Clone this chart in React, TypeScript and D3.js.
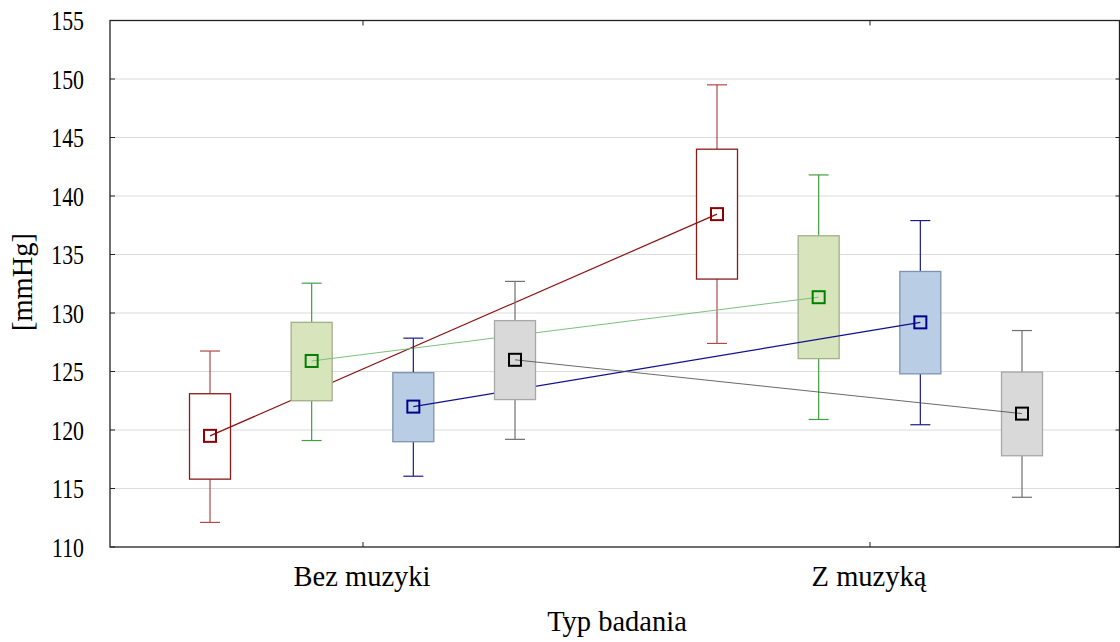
import React from "react";
import * as d3 from "d3";

const categories = ["Bez muzyki", "Z muzyką"];
const seriesNames = ["s1", "s2", "s3", "s4"];
const yTicks = [110, 115, 120, 125, 130, 135, 140, 145, 150, 155];

// per series: [Bez muzyki, Z muzyką]
const means = [
  [119.5, 138.45],
  [125.9, 131.35],
  [122.0, 129.2],
  [126.0, 121.4],
];
const boxLow = [
  [115.8, 132.9],
  [122.5, 126.1],
  [119.0, 124.8],
  [122.6, 117.8],
];
const boxHigh = [
  [123.1, 144.0],
  [129.2, 136.6],
  [124.9, 133.55],
  [129.35, 124.95],
];
const whiskLow = [
  [112.1, 127.4],
  [119.1, 120.9],
  [116.05, 120.45],
  [119.2, 114.25],
];
const whiskHigh = [
  [126.75, 149.5],
  [132.55, 141.8],
  [127.85, 137.9],
  [132.7, 128.5],
];

const styles = [
  { fill: "#ffffff", boxStroke: "#8b1a1a", whisk: "#b04848", marker: "#8b0000", line: "#8b1010", lw: 1.2 },
  { fill: "#d8e4bc", boxStroke: "#a0b088", whisk: "#40a040", marker: "#008000", line: "#7cc07c", lw: 1 },
  { fill: "#b9cde5", boxStroke: "#7f93b0", whisk: "#1a1a8b", marker: "#00008b", line: "#10108b", lw: 1.3 },
  { fill: "#d9d9d9", boxStroke: "#a8a8a8", whisk: "#707070", marker: "#000000", line: "#444444", lw: 0.8 },
];

const W = 1120;
const H = 642;
const left = 110;
const right = 1119.5;
const top = 20.5;
const bottom = 547;
const FONT = "Liberation Serif, DejaVu Serif, Times New Roman, serif";

export default function App() {
  const y = d3.scaleLinear().domain([110, 155]).range([bottom, top]);
  const x = d3.scalePoint<string>().domain(categories).range([363, 870]);
  const off = d3.scalePoint<string>().domain(seriesNames).range([-153, 152]);
  const boxW = 41;
  const capW = 20;
  const mk = 12;
  const tStyle = { fontFamily: FONT } as React.CSSProperties;

  return (
    <svg
      width={W}
      height={H}
      style={{ position: "absolute", left: 0, top: 0, background: "#fff", fontFamily: FONT }}
    >
      <rect x={0} y={0} width={W} height={H} fill="#fff" />
      {yTicks.slice(1, -1).map((t) => (
        <line key={t} x1={left} x2={right} y1={y(t)} y2={y(t)} stroke="#dcdcdc" strokeWidth={1.2} />
      ))}
      {seriesNames.map((s, si) => {
        const st = styles[si];
        const xs = categories.map((c) => (x(c) as number) + (off(s) as number));
        const path = d3
          .line<number>()
          .x((_, i) => xs[i])
          .y((d) => y(d))(means[si]);
        return (
          <g key={s}>
            {categories.map((c, ci) => {
              const cx = xs[ci];
              return (
                <g key={c}>
                  <line x1={cx} x2={cx} y1={y(whiskHigh[si][ci])} y2={y(boxHigh[si][ci])} stroke={st.whisk} strokeWidth={1.2} />
                  <line x1={cx} x2={cx} y1={y(boxLow[si][ci])} y2={y(whiskLow[si][ci])} stroke={st.whisk} strokeWidth={1.2} />
                  <line x1={cx - capW / 2} x2={cx + capW / 2} y1={y(whiskHigh[si][ci])} y2={y(whiskHigh[si][ci])} stroke={st.whisk} strokeWidth={1.2} />
                  <line x1={cx - capW / 2} x2={cx + capW / 2} y1={y(whiskLow[si][ci])} y2={y(whiskLow[si][ci])} stroke={st.whisk} strokeWidth={1.2} />
                  <rect
                    x={cx - boxW / 2}
                    y={y(boxHigh[si][ci])}
                    width={boxW}
                    height={y(boxLow[si][ci]) - y(boxHigh[si][ci])}
                    fill={st.fill}
                    stroke={st.boxStroke}
                    strokeWidth={1.3}
                  />
                </g>
              );
            })}
            <path d={path || ""} fill="none" stroke={st.line} strokeWidth={st.lw} />
            {categories.map((c, ci) => (
              <rect
                key={"m" + c}
                x={xs[ci] - mk / 2}
                y={y(means[si][ci]) - mk / 2}
                width={mk}
                height={mk}
                fill="none"
                stroke={st.marker}
                strokeWidth={2}
              />
            ))}
          </g>
        );
      })}
      <rect x={left} y={top} width={right - left} height={bottom - top} fill="none" stroke="#222" strokeWidth={1.3} />
      {yTicks.map((t) => (
        <g key={"t" + t}>
          <line x1={left} x2={left + 5} y1={y(t)} y2={y(t)} stroke="#222" strokeWidth={1} />
          <line x1={right - 4} x2={right} y1={y(t)} y2={y(t)} stroke="#222" strokeWidth={1} />
          <text
            transform={`translate(84, ${y(t)}) scale(0.78, 1)`}
            dy="0.35em"
            textAnchor="end"
            fontSize={28}
            fill="#000"
            style={tStyle}
          >
            {t}
          </text>
        </g>
      ))}
      {categories.map((c) => (
        <g key={"x" + c}>
          <line x1={x(c)} x2={x(c)} y1={bottom} y2={bottom - 5} stroke="#222" strokeWidth={1} />
          <line x1={x(c)} x2={x(c)} y1={top} y2={top + 5} stroke="#222" strokeWidth={1} />
          <text x={(x(c) as number) - 1} y={586} textAnchor="middle" fontSize={28.5} fill="#000" style={tStyle}>
            {c}
          </text>
        </g>
      ))}
      <text x={617} y={631} textAnchor="middle" fontSize={28.5} fill="#000" style={tStyle}>
        Typ badania
      </text>
      <text
        transform={`translate(32, ${282}) rotate(-90)`}
        textAnchor="middle"
        fontSize={28.5}
        fill="#000"
        style={tStyle}
      >
        [mmHg]
      </text>
    </svg>
  );
}
